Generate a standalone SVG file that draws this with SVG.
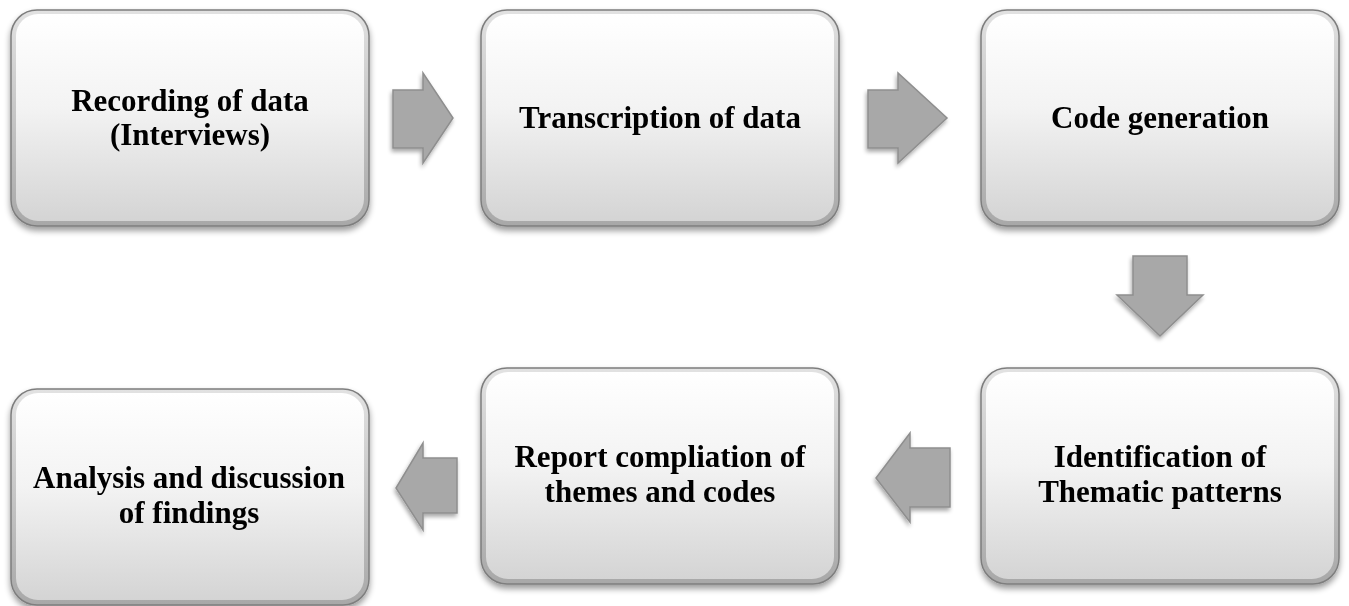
<svg xmlns="http://www.w3.org/2000/svg" width="1349" height="606" viewBox="0 0 1349 606">
<defs>
<linearGradient id="bg" x1="0" y1="0" x2="0" y2="1">
<stop offset="0" stop-color="#ffffff"/>
<stop offset="0.45" stop-color="#f3f3f3"/>
<stop offset="1" stop-color="#d4d4d4"/>
</linearGradient>
<linearGradient id="rim" x1="0" y1="0" x2="0" y2="1">
<stop offset="0" stop-color="#e2e2e2"/>
<stop offset="1" stop-color="#a8a8a8"/>
</linearGradient>
<filter id="sh" x="-10%" y="-10%" width="120%" height="125%">
<feGaussianBlur in="SourceAlpha" stdDeviation="3"/>
<feOffset dx="0" dy="4" result="b"/>
<feComponentTransfer><feFuncA type="linear" slope="0.4"/></feComponentTransfer>
<feMerge><feMergeNode/><feMergeNode in="SourceGraphic"/></feMerge>
</filter>
<filter id="ash" x="-20%" y="-20%" width="150%" height="150%">
<feGaussianBlur in="SourceAlpha" stdDeviation="2"/>
<feOffset dx="-1" dy="3"/>
<feComponentTransfer><feFuncA type="linear" slope="0.35"/></feComponentTransfer>
<feMerge><feMergeNode/><feMergeNode in="SourceGraphic"/></feMerge>
</filter>
<g id="box">
<rect x="0" y="0" width="358" height="216" rx="26" fill="url(#rim)" stroke="#7e7e7e" stroke-width="1.5"/>
<rect x="5" y="4" width="348" height="207" rx="22" fill="url(#bg)"/>
</g>
</defs>
<style>
.t{font-family:"Liberation Serif","Times New Roman",serif;font-weight:bold;font-size:31px;fill:#000;text-anchor:middle}
.ar{fill:#a8a8a8;stroke:#8e8e8e;stroke-width:1.5;stroke-linejoin:miter}
</style>
<g id="n1" filter="url(#sh)"><use href="#box" x="11" y="10"/><text class="t" x="190" y="111">Recording of data</text><text class="t" x="190" y="145">(Interviews)</text></g>
<g id="n2" filter="url(#sh)"><use href="#box" x="481" y="10"/><text class="t" x="660" y="128">Transcription of data</text></g>
<g id="n3" filter="url(#sh)"><use href="#box" x="981" y="10"/><text class="t" x="1160" y="128">Code generation</text></g>
<g id="n6" filter="url(#sh)"><use href="#box" x="981" y="368"/><text class="t" x="1160" y="467">Identification of</text><text class="t" x="1160" y="502">Thematic patterns</text></g>
<g id="n5" filter="url(#sh)"><use href="#box" x="481" y="368"/><text class="t" x="660" y="467">Report compliation of</text><text class="t" x="660" y="502">themes and codes</text></g>
<g id="n4" filter="url(#sh)"><use href="#box" x="11" y="389"/><text class="t" x="189" y="488">Analysis and discussion</text><text class="t" x="189" y="523">of findings</text></g>
<g id="connectors" filter="url(#ash)">
<polygon class="ar" points="393,90 423,90 423,73 453,118 423,163 423,148 393,148"/>
<polygon class="ar" points="868,90 898,90 898,73 947,118 898,163 898,148 868,148"/>
<polygon class="ar" points="1133,256 1187,256 1187,295 1203,295 1160,336 1117,295 1133,295"/>
<polygon class="ar" points="950,448 910,448 910,433 876,478 910,522 910,507 950,507"/>
<polygon class="ar" points="457,458 423,458 423,443 396,488 423,530 423,513 457,513"/>
</g>
</svg>
